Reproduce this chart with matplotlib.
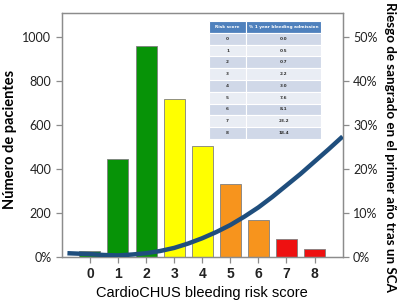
import matplotlib
matplotlib.use("Agg")
import matplotlib.pyplot as plt

# bars: patients per risk score
scores = [0, 1, 2, 3, 4, 5, 6, 7, 8]
patients = [28, 445, 960, 718, 507, 331, 169, 83, 39]
bar_colors = ["#079307", "#079307", "#079307", "#ffff00", "#ffff00",
              "#f7941d", "#f7941d", "#ee1111", "#ee1111"]

# trend line of bleeding risk (%)
curve_x = [-0.8, 0, 0.5, 1, 1.5, 2, 2.5, 3, 3.5, 4, 4.5, 5, 5.5, 6, 6.5, 7, 7.5, 8, 8.5, 9]
curve_y = [0.9, 0.7, 0.5, 0.4, 0.6, 0.9, 1.4, 2.1, 3.1, 4.3, 5.7, 7.3, 9.2, 11.3, 13.7, 16.3, 18.9, 21.7, 24.5, 27.4]

# inset table
table_header = ["Risk score", "% 1 year bleeding admission"]
table_scores = ["0", "1", "2", "3", "4", "5", "6", "7", "8"]
table_pct = ["0.0", "0.5", "0.7", "2.2", "3.0", "7.6", "8.1", "23.2", "18.4"]

left_ticks = [0, 200, 400, 600, 800, 1000]
left_labels = ["0%", "200", "400", "600", "800", "1000"]
right_ticks = [0, 10, 20, 30, 40, 50]

fig = plt.figure(figsize=(4.04, 3.04), dpi=100)
ax = fig.add_axes([0.153, 0.154, 0.695, 0.804])
ax.bar(scores, patients, width=0.75, color=bar_colors, edgecolor="#7f7f7f", linewidth=0.6, zorder=2)
ax.set_xlim(-1, 9)
ax.set_ylim(0, 1110)
ax.set_xticks(scores)
ax.set_xticklabels([str(s) for s in scores], fontfamily="Liberation Sans", fontweight="bold", fontsize=10)
ax.set_yticks(left_ticks)
ax.set_yticklabels(left_labels, fontfamily="Lato", fontsize=9)
ax.set_ylabel("Número de pacientes", fontfamily="Lato", fontweight="bold", fontsize=10.5)
ax.yaxis.set_label_coords(-0.16, 0.48)
ax.set_xlabel("CardioCHUS bleeding risk score", fontfamily="Liberation Sans", fontsize=10.5, labelpad=4)

ax2 = ax.twinx()
ax2.plot(curve_x, curve_y, color="#1f4e7d", linewidth=3.2, solid_capstyle="butt", zorder=3)
ax2.set_ylim(0, 55.5)
ax2.set_yticks(right_ticks)
ax2.set_yticklabels([f"{t}%" for t in right_ticks], fontfamily="Lato", fontsize=9)
ax2.set_ylabel("Riesgo de sangrado en el primer año tras un SCA", fontfamily="Lato",
               fontweight="bold", fontsize=9.6, rotation=-90, va="center")
ax2.yaxis.set_label_coords(1.168, 0.45)

for a in (ax, ax2):
    for sp in a.spines.values():
        sp.set_color("#8c8c8c")
        sp.set_linewidth(0.9)
    a.tick_params(colors="#8c8c8c", labelcolor="#222222", length=4, width=0.9)
ax.tick_params(axis="x", pad=3)

tbl_data = [[s, p] for s, p in zip(table_scores, table_pct)]
tbl = ax.table(cellText=tbl_data, colLabels=table_header, colWidths=[0.133, 0.266],
               bbox=[0.524, 0.484, 0.399, 0.482], cellLoc="center")
tbl.auto_set_font_size(False)
for (r, c), cell in tbl.get_celld().items():
    cell.set_edgecolor("white")
    cell.set_linewidth(0.8)
    cell.PAD = 0.02
    txt = cell.get_text()
    txt.set_fontsize(3.1)
    txt.set_fontweight("bold")
    if r == 0:
        cell.set_facecolor("#4f81bd")
        txt.set_color("white")
    else:
        cell.set_facecolor("#d0d8e8" if r % 2 == 1 else "#e9edf4")
        txt.set_color("#333333")
tbl.set_zorder(5)

fig.savefig("out.png", dpi=100)
